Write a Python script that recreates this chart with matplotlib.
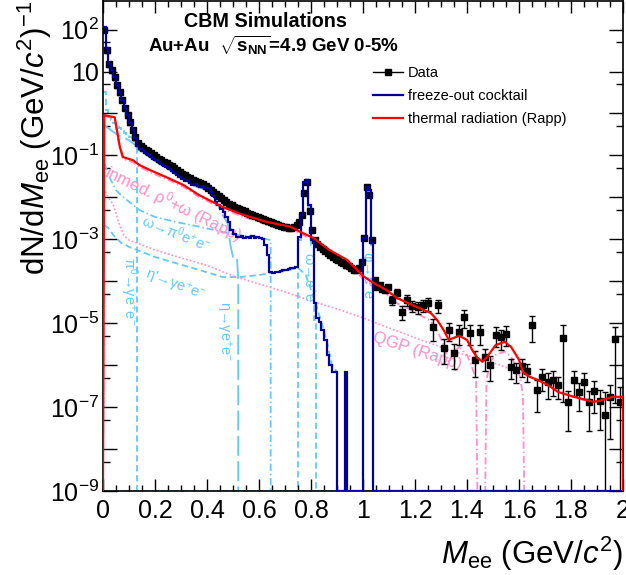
import numpy as np
import matplotlib.pyplot as plt
from matplotlib.lines import Line2D

plt.rcParams['font.family'] = ['Liberation Sans', 'DejaVu Sans']
plt.rcParams['mathtext.fontset'] = 'custom'
plt.rcParams['mathtext.rm'] = 'Liberation Sans'
plt.rcParams['mathtext.it'] = 'Liberation Sans:italic'
plt.rcParams['mathtext.bf'] = 'Liberation Sans:bold'
plt.rcParams['mathtext.sf'] = 'Liberation Sans'

# ---- data (dN/dM in (GeV/c2)^-1) ----
# 10 MeV bins up to 1.1 GeV
data_lo = [100, 32, 14.9, 10.7, 7.3, 4.7, 3.2, 2.1, 1.34, 0.91,
           0.62, 0.40, 0.27, 0.196, 0.166, 0.149, 0.134, 0.126, 0.113, 0.102,
           0.091, 0.082, 0.077, 0.069, 0.066, 0.059, 0.056, 0.050, 0.045, 0.040,
           0.036, 0.034, 0.030, 0.029, 0.026, 0.0244, 0.0231, 0.0219, 0.0207, 0.0186,
           0.0166, 0.0149, 0.0134, 0.0120, 0.0107, 0.0096, 0.0086, 0.0077, 0.0069, 0.0066,
           0.0059, 0.0056, 0.0053, 0.0050, 0.0047, 0.0042, 0.0040, 0.0038, 0.0036, 0.0034,
           0.0032, 0.0030, 0.0029, 0.0027, 0.0026, 0.0024, 0.0023, 0.0022, 0.0021, 0.0020,
           0.0020, 0.0019, 0.0019, 0.0020, 0.0022, 0.0026, 0.0038, 0.0126, 0.0231, 0.0047,
           0.00166, 0.00096, 0.00077, 0.00066, 0.00059, 0.00053, 0.00047, 0.00042, 0.00038, 0.00034,
           0.00032, 0.00029, 0.00027, 0.00024, 0.00023, 0.00021, 0.00019, 0.00019, 0.00021, 0.00029,
           0.00107, 0.0176, 0.0113, 0.00096, 1.07e-4, 7.3e-5, 8.2e-5, 6.6e-5, 6.2e-5, 7.3e-5]
lo_rel_err = 0.12
# 20 MeV bins from 1.1 to 2.0 GeV
data_hi = [3.6e-5, 5.3e-5, 1.86e-5, 3.6e-5, 2.6e-5, 2.4e-5, 2.7e-5, 3.0e-5, 8.2e-6, 2.7e-5,
           2.6e-6, 6.9e-6, 2.0e-6, 6.2e-6, 1.41e-5, 5.9e-6, 1.34e-6, 6.2e-6, 1.58e-6, 1.02e-6,
           5.3e-6, 4.7e-6, 5.6e-6, 9.1e-7, 7.7e-7, 9.6e-7, 7.3e-7, 9.1e-6, 2.6e-7, 5.3e-7,
           4.0e-7, 4.5e-7, 3.4e-7, 4.5e-6, 1.34e-7, 4.5e-7, 2.3e-7, 4.0e-7, 1.34e-7, 2.4e-7,
           1.41e-7, 6.6e-8, 1.76e-7, 4.2e-6, 1.34e-7]
hi_rel_err = [0.25, 0.25, 0.35, 0.3, 0.3, 0.3, 0.3, 0.35, 0.55, 0.35,
              0.6, 0.45, 0.6, 0.5, 0.45, 0.5, 0.6, 0.5, 0.55, 0.6,
              0.5, 0.5, 0.5, 0.5, 0.5, 0.45, 0.45, 0.6, 0.7, 0.55,
              0.6, 0.6, 0.55, 0.97, 0.8, 0.6, 0.65, 0.6, 0.8, 0.7,
              0.8, 2.5, 0.9, 0.97, 1.3]

# freeze-out cocktail, 10 MeV bins from 0 (zero above 1.04)
cocktail = [113, 36, 14.9, 10.7, 7.3, 4.7, 3.2, 2.1, 1.34, 0.91,
            0.59, 0.40, 0.26, 0.166, 0.141, 0.126, 0.113, 0.102, 0.091, 0.082,
            0.077, 0.069, 0.062, 0.056, 0.053, 0.047, 0.042, 0.038, 0.034, 0.030,
            0.027, 0.0244, 0.026, 0.0219, 0.0196, 0.0207, 0.0186, 0.0176, 0.0186, 0.0166,
            0.0166, 0.0134, 0.0107, 0.0077, 0.0066, 0.0053, 0.0045, 0.0034, 0.0026, 0.00166,
            0.00134, 0.00114, 0.00114, 0.0012, 0.00107, 0.00114, 0.00107, 0.0012, 0.00107, 0.00114,
            0.00107, 0.00102, 0.00073, 0.00042, 1.66e-4, 1.58e-4, 1.66e-4, 1.66e-4, 1.76e-4, 1.86e-4,
            1.86e-4, 1.96e-4, 2.08e-4, 2.08e-4, 2.19e-4, 0.00114, 0.0038, 0.0231, 0.026, 0.0066,
            0.00096, 3.0e-5, 1.34e-5, 1.07e-5, 6.9e-6, 4.0e-6, 1.76e-6, 1.02e-6, 6.9e-7, 6.9e-7,
            0, 0, 0, 6.9e-7, 0, 0, 0, 0, 0, 0,
            0.00107, 0.0176, 0.0149, 0.00082]

# cocktail components
pi0_dalitz = [3.2, 1.2, 0.82, 0.69, 0.59, 0.53, 0.45, 0.38, 0.34, 0.30, 0.27, 0.244, 0.219]
omega_ee = [0.00096, 0.0034, 0.0219, 0.0244, 0.0059, 0.00073, 1.2e-5]   # 0.75-0.82
phi_ee = [0.00096, 0.0167, 0.0134, 0.00073]                              # 1.00-1.04

eta_m = [0.005, 0.03, 0.06, 0.1, 0.13, 0.14, 0.2, 0.25, 0.3, 0.35, 0.4, 0.43, 0.46, 0.48,
         0.49, 0.5, 0.515, 0.52, 0.52, 2.0]
eta_y = [0.53, 0.40, 0.30, 0.23, 0.166, 0.134, 0.073, 0.047, 0.029, 0.0186, 0.0149, 0.0096,
         0.0038, 0.0024, 0.00073, 0.00038, 0.00038, 1.26e-4, 0, 0]

etap_m = [0.005, 0.02, 0.04, 0.07, 0.1, 0.15, 0.2, 0.28, 0.37, 0.46, 0.53, 0.6, 0.65, 0.7,
          0.75, 0.78, 0.8, 0.82, 0.84, 0.86, 0.88, 0.9, 0.9, 2.0]
etap_y = [0.0022, 0.00186, 0.00126, 0.00082, 0.00066, 0.0005, 0.00038, 0.00027, 1.86e-4,
          1.26e-4, 1.26e-4, 1.41e-4, 1.58e-4, 1.76e-4, 2.08e-4, 1.41e-4, 6.2e-5, 2.7e-5,
          1.07e-5, 4.0e-6, 1.02e-6, 6.9e-7, 0, 0]

omd_m = [0.005, 0.015, 0.03, 0.05, 0.077, 0.14, 0.2, 0.28, 0.37, 0.46, 0.52, 0.59, 0.645, 0.645, 2.0]
omd_y = [0.065, 0.045, 0.026, 0.0149, 0.0102, 0.0050, 0.0034, 0.0026, 0.0020, 0.00149,
         0.00126, 0.00114, 0.00096, 0, 0]

# thermal radiation (Rapp): QGP, in-medium rho+omega, and the sum
qgp_m = [0.0, 0.005, 0.02, 0.04, 0.06, 0.08, 0.1, 0.15, 0.2, 0.3, 0.4, 0.5, 0.6, 0.7, 0.8,
         0.9, 1.0, 1.1, 1.2, 1.3, 1.4, 1.5, 1.6, 1.7, 1.8, 1.9, 2.0, 2.0]
qgp_y = [0, 0.0149, 0.0102, 0.0066, 0.0026, 0.00126, 0.00096, 0.00073, 0.00056, 0.00036,
         0.00024, 1.34e-4, 8.6e-5, 5.6e-5, 3.4e-5, 2.2e-5, 1.34e-5, 7.7e-6, 4.5e-6, 2.7e-6,
         1.7e-6, 1.15e-6, 6.8e-7, 3.6e-7, 1.85e-7, 1.36e-7, 1.76e-7, 0]

inmed_m = [0.0, 0.005, 0.045, 0.055, 0.065, 0.077, 0.115, 0.14, 0.18, 0.25,
           0.31, 0.37, 0.46, 0.54, 0.63, 0.72, 0.76, 0.81, 0.87, 0.94,
           1.0, 1.04, 1.09, 1.13, 1.19, 1.26, 1.285, 1.31, 1.33, 1.35,
           1.37, 1.40, 1.42, 1.435, 1.44, 1.47, 1.475, 1.49, 1.51, 1.545,
           1.57, 1.60, 1.615, 1.62, 2.0]
inmed_y = [0, 0.86, 0.77, 0.32, 0.141, 0.082, 0.069, 0.053, 0.040, 0.026,
           0.0176, 0.0102, 0.0053, 0.0034, 0.0023, 0.00176, 0.00134, 0.00096, 0.0005, 0.00029,
           1.13e-4, 7.3e-5, 5.0e-5, 3.0e-5, 2.0e-5, 1.13e-5, 6.9e-6, 3.0e-6, 1.2e-6, 2.1e-6,
           2.7e-6, 1.76e-6, 8.6e-7, 4.5e-7, 0, 0, 4.5e-7, 1.2e-6, 1.76e-6, 2.1e-6,
           1.58e-6, 6.9e-7, 2.0e-7, 0, 0]

thermal_m = [0.0, 0.005, 0.045, 0.055, 0.065, 0.077, 0.115, 0.14, 0.18, 0.25,
             0.31, 0.37, 0.46, 0.54, 0.63, 0.72, 0.76, 0.81, 0.87, 0.94,
             1.0, 1.04, 1.09, 1.13, 1.19, 1.26, 1.285, 1.31, 1.33, 1.35,
             1.37, 1.40, 1.42, 1.44, 1.46, 1.48, 1.51, 1.545, 1.57, 1.60,
             1.615, 1.64, 1.67, 1.71, 1.75, 1.81, 1.885, 1.91, 1.96, 2.0, 2.0]
thermal_y = [0, 0.91, 0.81, 0.36, 0.158, 0.091, 0.077, 0.059, 0.045, 0.029,
             0.0196, 0.0113, 0.0059, 0.0038, 0.0026, 0.0020, 0.00149, 0.00107, 0.00056, 0.00032,
             1.34e-4, 9.1e-5, 6.2e-5, 4.0e-5, 2.7e-5, 1.76e-5, 1.2e-5, 6.9e-6, 4.0e-6, 4.5e-6,
             5.0e-6, 4.0e-6, 2.3e-6, 1.49e-6, 1.2e-6, 1.66e-6, 3.0e-6, 3.6e-6, 2.7e-6, 1.34e-6,
             6.9e-7, 5.3e-7, 4.5e-7, 3.4e-7, 2.3e-7, 1.76e-7, 1.34e-7, 1.41e-7, 1.76e-7, 1.76e-7, 0]

ymin, ymax = 1e-9, 485

navy = '#000099'
lblue = '#66c8f8'
pink = '#ff8fc8'

def floor(v):
    # ROOT draws empty bins on the frame minimum
    return np.clip(np.asarray(v, dtype=float), ymin, None)

edges = np.arange(201) * 0.01

def full_hist(vals, first_bin):
    h = np.zeros(200)
    h[first_bin:first_bin + len(vals)] = vals
    return h

fig = plt.figure(figsize=(6.26, 5.75), dpi=100)
ax = fig.add_axes([0.1645, 0.1461, 0.8307, 0.8525])
ax.set_yscale('log', nonpositive='clip')

# components
ax.stairs(floor(full_hist(pi0_dalitz, 0)), edges, baseline=None, color=lblue, lw=1.3,
          linestyle=(0, (3.5, 2)))
ax.plot(eta_m, floor(eta_y), color=lblue, lw=1.3, linestyle=(0, (11, 3)))
ax.plot(etap_m, floor(etap_y), color=lblue, lw=1.3, linestyle=(0, (3.5, 2)))
ax.plot(omd_m, floor(omd_y), color=lblue, lw=1.3, linestyle=(0, (4, 1.6, 0.8, 1.6)))
ax.stairs(floor(full_hist(omega_ee, 75)), edges, baseline=None, color=lblue, lw=1.3,
          linestyle=(0, (3.5, 2)))
ax.stairs(floor(full_hist(phi_ee, 100)), edges, baseline=None, color=lblue, lw=1.3,
          linestyle=(0, (3.5, 2)))

ax.plot(qgp_m, floor(qgp_y), color=pink, lw=1.2, linestyle=(0, (1, 1.3)))
ax.plot(inmed_m, floor(inmed_y), color=pink, lw=1.3, linestyle=(0, (4, 1.6, 0.8, 1.6)))

# data
m_lo = np.arange(len(data_lo)) * 0.01 + 0.005
m_hi = np.arange(len(data_hi)) * 0.02 + 1.11
d_lo = np.array(data_lo)
d_hi = np.array(data_hi)
ax.errorbar(m_lo, d_lo, yerr=d_lo * lo_rel_err, fmt='s', ms=5, color='black',
            elinewidth=1, capsize=2.5, zorder=4)
ax.errorbar(m_hi, d_hi, yerr=d_hi * np.array(hi_rel_err), fmt='s', ms=5, color='black',
            elinewidth=1, capsize=2.5, zorder=4)

# totals
ax.stairs(floor(full_hist(cocktail, 0)), edges, baseline=None, color=navy, lw=1.6, zorder=5)
ax.plot(thermal_m, floor(thermal_y), color='red', lw=1.6, zorder=5)

# axes
ax.set_xlim(0, 2)
ax.set_xticks(np.arange(0, 2.01, 0.2))
ax.set_xticklabels(['0', '0.2', '0.4', '0.6', '0.8', '1', '1.2', '1.4', '1.6', '1.8', '2'])
ax.set_xticks(np.arange(0, 2.001, 0.05), minor=True)

exps = list(range(-9, 3))
ylab = {2: r'10$^{2}$', 1: '10', -1: r'10$^{-1}$', -3: r'10$^{-3}$', -5: r'10$^{-5}$',
        -7: r'10$^{-7}$', -9: r'10$^{-9}$'}
ax.set_yticks([10.0 ** e for e in exps])
ax.set_yticklabels([ylab.get(e, '') for e in exps])
ax.set_yticks([5 * 10.0 ** e for e in exps[:-1]], minor=True)
ax.yaxis.set_minor_formatter(plt.NullFormatter())
ax.set_ylim(ymin, ymax)

ax.tick_params(which='both', direction='in', top=True, right=True, labelsize=18, width=1)
ax.tick_params(axis='x', which='major', length=8.5, pad=6)
ax.tick_params(axis='x', which='minor', length=4.3)
ax.tick_params(axis='y', which='major', length=10, pad=3)
ax.tick_params(axis='y', which='minor', length=5)
for s in ax.spines.values():
    s.set_linewidth(1.2)

ax.set_xlabel(r'$\mathit{M}_{\mathrm{ee}}$ (GeV/$\mathit{c}^{2}$)', fontsize=22.5, loc='right')
ax.xaxis.set_label_coords(1.0, -0.09)
ax.set_ylabel(r'dN/d$\mathit{M}_{\mathrm{ee}}$ (GeV/$\mathit{c}^{2}$)$^{-1}$', fontsize=22.5,
              loc='top')
ax.yaxis.set_label_coords(-0.094, 1.0)

# header
ax.text(0.156, 0.957, 'CBM Simulations', transform=ax.transAxes, fontsize=14.2,
        fontweight='bold', ha='left', va='center')
ax.text(0.0865, 0.910, r'Au+Au  $\sqrt{\mathbf{s}_{\mathbf{NN}}}$=4.9 GeV 0-5%',
        transform=ax.transAxes, fontsize=13.5, fontweight='bold', ha='left', va='center')

# curve labels
lkw = dict(color=lblue, fontsize=10.5, ha='center', va='center')
ax.text(0.10, 5.9e-5, r'π$^{0}$→γe$^{+}$e$^{-}$', rotation=-90, **lkw)
ax.text(0.465, 6.6e-6, r'η→γe$^{+}$e$^{-}$', rotation=-90, **lkw)
ax.text(0.792, 1.07e-4, r'ω→e$^{+}$e$^{-}$', rotation=-90, **lkw)
ax.text(1.015, 1.2e-4, r'φ→e$^{+}$e$^{-}$', rotation=-90, **lkw)
ax.text(0.282, 1.41e-3, r'ω→π$^{0}$e$^{+}$e$^{-}$', rotation=-22, **lkw)
ax.text(0.277, 8.1e-5, r"η'→γe$^{+}$e$^{-}$", rotation=-21, **lkw)
ax.text(0.27, 7.2e-3, r'inmed. ρ$^{0}$+ω (Rapp)', rotation=-26, color=pink, fontsize=12,
        ha='center', va='center')
ax.text(1.21, 2.1e-6, 'QGP (Rapp)', rotation=-18, color=pink, fontsize=12,
        ha='center', va='center')

handles = [Line2D([], [], color='black', marker='s', ms=5, lw=1),
           Line2D([], [], color=navy, lw=1.6),
           Line2D([], [], color='red', lw=1.6)]
ax.legend(handles, ['Data', 'freeze-out cocktail', 'thermal radiation (Rapp)'],
          loc='upper left', bbox_to_anchor=(0.52, 0.867), frameon=False, fontsize=10.5,
          handlelength=2.0, handletextpad=0.35, labelspacing=0.62, borderpad=0, borderaxespad=0)

fig.savefig('out.png', dpi=100)
